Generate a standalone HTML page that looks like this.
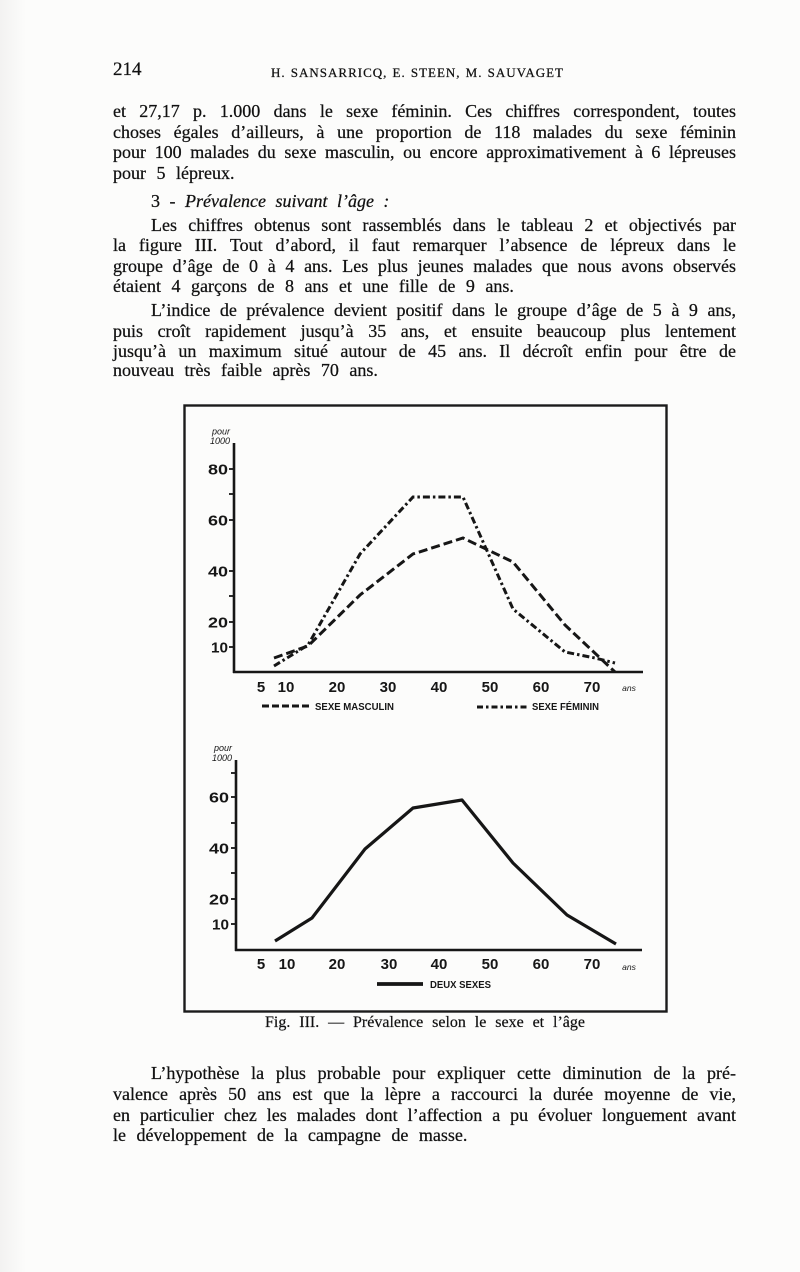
<!DOCTYPE html>
<html>
<head>
<meta charset="utf-8">
<style>
  html, body { margin:0; padding:0; }
  body { width:800px; height:1272px; background:#fcfcfb; position:relative; overflow:hidden;
         font-family:"Liberation Serif", serif; color:#111; }
  .ln { position:absolute; left:113px; width:623px; font-size:18px; line-height:20px;
        text-align:justify; text-align-last:justify; white-space:normal;
        -webkit-text-stroke:0.25px #111; }
  .last { text-align:left; text-align-last:left; word-spacing:6px; }
  .ind { left:151px; width:585px; }
  .hdr { position:absolute; font-size:13px; line-height:14px; letter-spacing:1px;
         left:271px; width:293px; text-align:justify; text-align-last:justify;
         -webkit-text-stroke:0.25px #111; }
  .pg { position:absolute; left:113px; top:60px; font-size:19px; line-height:20px;
        -webkit-text-stroke:0.25px #111; }
  .cap { position:absolute; left:265px; width:320px; top:1014px; font-size:16px; line-height:18px;
         text-align:justify; text-align-last:justify; -webkit-text-stroke:0.2px #111; }
  svg { position:absolute; left:0; top:0; }
  .edge { position:absolute; left:0; top:0; width:26px; height:1272px;
          background:linear-gradient(to right, #ecebea, #fcfcfb); opacity:0.6; }
</style>
</head>
<body>
<div class="edge"></div>

<div class="pg">214</div>
<div class="hdr" style="top:66px;">H. SANSARRICQ, E. STEEN, M. SAUVAGET</div>

<div class="ln" style="top:101px;">et 27,17 p. 1.000 dans le sexe féminin. Ces chiffres correspondent, toutes</div>
<div class="ln" style="top:121.5px;">choses égales d’ailleurs, à une proportion de 118 malades du sexe féminin</div>
<div class="ln" style="top:142px;">pour 100 malades du sexe masculin, ou encore approximativement à 6 lépreuses</div>
<div class="ln last" style="top:162.5px;">pour 5 lépreux.</div>

<div class="ln last ind" style="top:191px; word-spacing:5px;">3 - <i>Prévalence suivant l’âge :</i></div>

<div class="ln ind" style="top:214.5px;">Les chiffres obtenus sont rassemblés dans le tableau 2 et objectivés par</div>
<div class="ln" style="top:235px;">la figure III. Tout d’abord, il faut remarquer l’absence de lépreux dans le</div>
<div class="ln" style="top:255.5px;">groupe d’âge de 0 à 4 ans. Les plus jeunes malades que nous avons observés</div>
<div class="ln last" style="top:276px;">étaient 4 garçons de 8 ans et une fille de 9 ans.</div>

<div class="ln ind" style="top:300px;">L’indice de prévalence devient positif dans le groupe d’âge de 5 à 9 ans,</div>
<div class="ln" style="top:320.5px;">puis croît rapidement jusqu’à 35 ans, et ensuite beaucoup plus lentement</div>
<div class="ln" style="top:341px;">jusqu’à un maximum situé autour de 45 ans. Il décroît enfin pour être de</div>
<div class="ln last" style="top:360px;">nouveau très faible après 70 ans.</div>

<svg width="800" height="1272" viewBox="0 0 800 1272" xmlns="http://www.w3.org/2000/svg">
  <!-- figure box -->
  <rect x="184.5" y="405.5" width="482" height="606" fill="none" stroke="#1b1b1b" stroke-width="2.4"/>

  <g font-family="Liberation Sans, sans-serif" fill="#161616">
    <!-- ===== TOP CHART ===== -->
    <text x="230" y="434.5" font-size="9" font-style="italic" text-anchor="end">pour</text>
    <text x="230" y="444" font-size="9" font-style="italic" text-anchor="end">1000</text>

    <g stroke="#161616" stroke-width="2.6" fill="none">
      <line x1="234" y1="443" x2="234" y2="673"/>
      <line x1="233" y1="672" x2="643" y2="672"/>
      <line x1="229" y1="469" x2="234" y2="469" stroke-width="1.8"/>
      <line x1="229" y1="494" x2="234" y2="494" stroke-width="1.8"/>
      <line x1="229" y1="520" x2="234" y2="520" stroke-width="1.8"/>
      <line x1="229" y1="571" x2="234" y2="571" stroke-width="1.8"/>
      <line x1="229" y1="596" x2="234" y2="596" stroke-width="1.8"/>
      <line x1="229" y1="622" x2="234" y2="622" stroke-width="1.8"/>
      <line x1="229" y1="647" x2="234" y2="647" stroke-width="1.8"/>
    </g>
    <g font-size="15" font-weight="bold" text-anchor="end">
      <text x="228" y="474.5" textLength="20" lengthAdjust="spacingAndGlyphs">80</text>
      <text x="228" y="525.5" textLength="20" lengthAdjust="spacingAndGlyphs">60</text>
      <text x="228" y="576.5" textLength="20" lengthAdjust="spacingAndGlyphs">40</text>
      <text x="228" y="627.5" textLength="20" lengthAdjust="spacingAndGlyphs">20</text>
      <text x="228" y="652.5" textLength="17" lengthAdjust="spacingAndGlyphs">10</text>
    </g>
    <g font-size="15" font-weight="bold" text-anchor="middle">
      <text x="261" y="692">5</text>
      <text x="286" y="692">10</text>
      <text x="337" y="692">20</text>
      <text x="388" y="692">30</text>
      <text x="439" y="692">40</text>
      <text x="490" y="692">50</text>
      <text x="541" y="692">60</text>
      <text x="592" y="692">70</text>
    </g>
    <text x="629" y="691" font-size="8.5" font-style="italic" text-anchor="middle">ans</text>

    <!-- series -->
    <polyline points="274,658 308,646 360,595 413,554 463,538 513,562 565,625 615,672"
      fill="none" stroke="#161616" stroke-width="3" stroke-dasharray="9 4"/>
    <polyline points="274,666 308,645 360,554 413,497 463,497 513,609 565,652 595,658 615,663"
      fill="none" stroke="#161616" stroke-width="3" stroke-dasharray="7 3 2.5 3"/>

    <!-- legend top -->
    <line x1="262" y1="706" x2="309" y2="706" stroke="#161616" stroke-width="3" stroke-dasharray="7 3"/>
    <text x="315" y="710" font-size="10" font-weight="bold" textLength="79" lengthAdjust="spacingAndGlyphs">SEXE MASCULIN</text>
    <line x1="477" y1="707" x2="528" y2="707" stroke="#161616" stroke-width="3" stroke-dasharray="6 3 2.5 3"/>
    <text x="532" y="710" font-size="10" font-weight="bold" textLength="67" lengthAdjust="spacingAndGlyphs">SEXE FÉMININ</text>

    <!-- ===== BOTTOM CHART ===== -->
    <text x="232" y="751" font-size="9" font-style="italic" text-anchor="end">pour</text>
    <text x="232" y="761" font-size="9" font-style="italic" text-anchor="end">1000</text>

    <g stroke="#161616" stroke-width="2.6" fill="none">
      <line x1="236" y1="760" x2="236" y2="951"/>
      <line x1="235" y1="950" x2="642" y2="950"/>
      <line x1="231" y1="773" x2="236" y2="773" stroke-width="1.8"/>
      <line x1="231" y1="797" x2="236" y2="797" stroke-width="1.8"/>
      <line x1="231" y1="823" x2="236" y2="823" stroke-width="1.8"/>
      <line x1="231" y1="848" x2="236" y2="848" stroke-width="1.8"/>
      <line x1="231" y1="873" x2="236" y2="873" stroke-width="1.8"/>
      <line x1="231" y1="899" x2="236" y2="899" stroke-width="1.8"/>
      <line x1="231" y1="924" x2="236" y2="924" stroke-width="1.8"/>
    </g>
    <g font-size="15" font-weight="bold" text-anchor="end">
      <text x="229" y="802.5" textLength="20" lengthAdjust="spacingAndGlyphs">60</text>
      <text x="229" y="853.5" textLength="20" lengthAdjust="spacingAndGlyphs">40</text>
      <text x="229" y="904.5" textLength="20" lengthAdjust="spacingAndGlyphs">20</text>
      <text x="229" y="929.5" textLength="17" lengthAdjust="spacingAndGlyphs">10</text>
    </g>
    <g font-size="15" font-weight="bold" text-anchor="middle">
      <text x="261" y="969">5</text>
      <text x="287" y="969">10</text>
      <text x="337" y="969">20</text>
      <text x="389" y="969">30</text>
      <text x="439" y="969">40</text>
      <text x="490" y="969">50</text>
      <text x="541" y="969">60</text>
      <text x="592" y="969">70</text>
    </g>
    <text x="629" y="970" font-size="8.5" font-style="italic" text-anchor="middle">ans</text>

    <polyline points="275,941 312,918 365,849 413,808 462,800 513,863 567,915 616,944"
      fill="none" stroke="#161616" stroke-width="3.2" stroke-linejoin="round"/>

    <line x1="377" y1="984" x2="423" y2="984" stroke="#161616" stroke-width="3.8"/>
    <text x="430" y="988" font-size="10" font-weight="bold" textLength="61" lengthAdjust="spacingAndGlyphs">DEUX SEXES</text>
  </g>
</svg>

<div class="cap">Fig. III. — Prévalence selon le sexe et l’âge</div>

<div class="ln ind" style="top:1063px;">L’hypothèse la plus probable pour expliquer cette diminution de la pré-</div>
<div class="ln" style="top:1084px;">valence après 50 ans est que la lèpre a raccourci la durée moyenne de vie,</div>
<div class="ln" style="top:1104.5px;">en particulier chez les malades dont l’affection a pu évoluer longuement avant</div>
<div class="ln last" style="top:1125px;">le développement de la campagne de masse.</div>

</body>
</html>
